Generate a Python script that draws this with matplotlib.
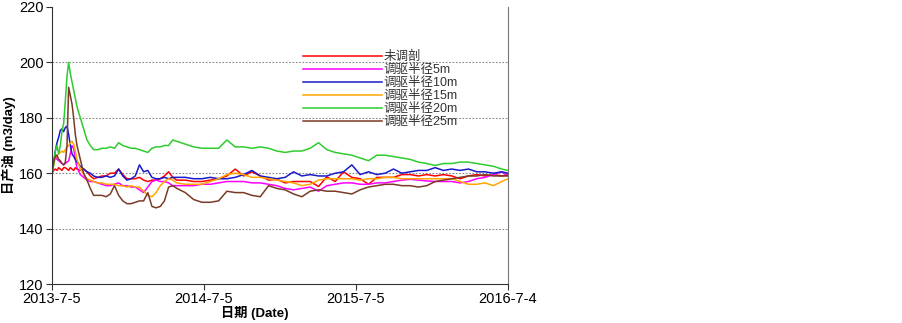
import matplotlib
matplotlib.use("Agg")
import matplotlib.pyplot as plt
import pandas as pd

plt.rcParams['font.family'] = ['Liberation Sans', 'Noto Sans CJK SC', 'DejaVu Sans']

# days since 2013-7-5
days = [0, 4, 8, 12, 16, 20, 24, 28, 32, 36, 40, 44, 48, 52, 56, 60,
        68, 76, 84, 92, 100, 110, 120, 130, 140, 150, 160, 170, 180, 190, 200,
        210, 220, 230, 240, 250, 260, 270, 280, 290, 300,
        320, 340, 360, 380, 400, 420, 440, 460, 480, 500, 520, 540, 560, 580,
        600, 620, 640, 660, 680, 700, 720, 740, 760, 780, 800, 820, 840, 860,
        880, 900, 920, 940, 960, 980, 1000, 1020, 1040, 1060, 1080, 1095]

base = [160, 161, 161.5, 161, 162, 161.5, 161, 162, 162, 161.5, 161, 162, 161.5, 161, 162, 161.5,
        161, 161.5, 160.5, 159, 158, 158.5, 159, 159, 160, 160, 161.5, 159.5, 158, 158, 158,
        158.5, 157.5, 157, 157.5, 157.5, 158, 159, 160.5, 158.5, 157.5,
        157.5, 157, 157, 157.5, 158, 159, 161.5, 159, 160.5, 159, 157.5, 157.8, 156.5, 157,
        157, 157, 155.2, 158.7, 157, 160.5, 158.5, 158, 156, 158.5, 158.5, 158.5, 159.5, 159.5,
        159, 159.5, 159, 159.5, 159, 158, 159, 159.5, 159, 159.5, 159, 159.5]

r5 = [160, 164, 166.5, 165, 164.5, 164, 163.5, 163, 163.5, 164, 164.5, 167, 170, 169, 165, 162,
      159.5, 158.5, 157.5, 157, 157, 156.5, 156, 155.5, 155.5, 156, 156.5, 155.5, 155.5, 155, 155,
      154, 153, 155, 157, 157.5, 157, 157, 156.5, 155.5, 155.5,
      155.5, 155.5, 156, 156, 156.5, 157, 157, 157, 156.5, 156.5, 156, 155.5, 154.5, 154,
      154.5, 155, 153.5, 155.5, 156, 156.5, 156.5, 156, 156, 156.5, 156.5, 157, 157.5, 157.8,
      157.5, 157.2, 157, 157, 157, 156.5, 157, 158, 158.5, 159.5, 160.5, 159]

r10 = [160, 164, 168, 171, 173, 175.5, 176, 175, 176.5, 177, 174, 170, 167, 166, 165, 164,
       162.5, 161.5, 160.5, 160, 159, 158.5, 158.5, 159, 158.5, 159, 161.5, 159, 157.5, 158, 159,
       163, 160.5, 161, 158.5, 158, 158, 158.5, 158, 158.5, 158.5,
       158.5, 158, 158, 158.5, 158, 158, 158.5, 159.5, 161, 159, 158.5, 158, 158.5, 160.5,
       159, 159.5, 159, 159, 160, 160.5, 163, 159.5, 160.5, 159.5, 160, 161.5, 160, 160.5,
       161, 161, 162, 161, 161.5, 161, 161.5, 160.5, 160.5, 160, 160.5, 160]

r15 = [160, 163, 165.5, 166.5, 167, 167.5, 168, 167.5, 168.5, 169.5, 170, 171, 171.5, 170.5, 168, 165,
       161.5, 159.5, 158, 157.5, 157, 156.5, 156.5, 156, 156, 156, 155.5, 155.5, 155, 155.5, 155,
       155, 153.5, 152, 151.5, 153, 155.5, 157, 158, 157.5, 156.5,
       156, 156, 156, 157, 158, 159.5, 160, 159.5, 158.5, 158.5, 158, 157.5, 157, 156.5,
       155.5, 156, 157.5, 158, 158, 158, 158, 157.5, 158, 158, 158.5, 158.5, 158, 158,
       158, 158, 158, 158, 158, 157, 156, 156, 156.5, 155.5, 157, 158]

r20 = [160, 163, 168, 170, 167, 170, 175, 178, 186, 195, 200, 196, 193, 190, 187, 184,
       180, 176, 172, 170, 168.5, 168.5, 169, 169, 169.5, 169, 171, 170, 169.5, 169, 169,
       168.5, 168, 167.5, 169, 169.5, 169.5, 170, 170, 172, 171.5,
       170.5, 169.5, 169, 169, 169, 172, 169.5, 169.5, 169, 169.5, 169, 168, 167.5, 168,
       168, 169, 171, 168.5, 167.5, 167, 166.5, 165.5, 164.5, 166.5, 166.5, 166, 165.5, 165,
       164, 163.5, 162.8, 163.5, 163.5, 164, 164, 163.5, 163, 162.5, 161.5, 161]

r25 = [160, 164, 166, 166.5, 165, 164.5, 163.5, 163, 164, 170, 191, 188, 185, 180, 174, 170,
       165, 160, 157.5, 154.5, 152, 152, 152, 151.5, 152.5, 155.5, 152, 150, 149, 149, 149.5,
       150, 150, 153, 148, 147.5, 148, 150, 155, 155.5, 154.5,
       153, 150.5, 149.5, 149.5, 150, 153.5, 153, 153, 152, 151.5, 155.5, 154.5, 154, 152.5,
       151.5, 153.5, 154, 153.5, 153.5, 153, 152.5, 154, 155, 155.5, 156, 156, 155.5, 155.5,
       155, 155.5, 157, 157.5, 158, 158.5, 159, 159, 159.5, 159, 159, 159]

labels = ['未调剖', '调驱半径5m', '调驱半径10m', '调驱半径15m', '调驱半径20m', '调驱半径25m']
colors = ['#ff0000', '#ff00ff', '#1a1acc', '#ffa500', '#2ecc2e', '#7a3b26']
series = [base, r5, r10, r15, r20, r25]

xtick_labels = ['2013-7-5', '2014-7-5', '2015-7-5', '2016-7-4']
yticks = [120, 140, 160, 180, 200, 220]

start = pd.Timestamp('2013-07-05')
dates = start + pd.to_timedelta(days, unit='D')

fig = plt.figure(figsize=(9.03, 3.23), dpi=100)
ax = fig.add_axes([52 / 903, 39 / 323, 456 / 903, 277 / 323])

for y in yticks[1:-1]:
    ax.axhline(y, color='#888888', linestyle=(0, (1.5, 1.5)), linewidth=0.8, zorder=0)

for vals, lab, col in zip(series, labels, colors):
    ax.plot(dates, vals, color=col, linewidth=1.1, label=lab)

tick_dates = [pd.Timestamp(s) for s in xtick_labels]
ax.set_xticks(tick_dates)
ax.set_xticklabels(xtick_labels, fontsize=10.5)
ax.set_xlim(tick_dates[0], tick_dates[-1])
ax.set_yticks(yticks)
ax.set_yticklabels([str(v) for v in yticks], fontsize=10.5)
ax.set_ylim(120, 220)

ax.spines['top'].set_visible(False)
ax.spines['right'].set_color('#777777')
for s in ['left', 'bottom']:
    ax.spines[s].set_color('#333333')
ax.tick_params(direction='out', length=4, width=0.8, pad=2, colors='#333333', labelcolor='black')

ax.set_xlabel('日期 (Date)', fontsize=9.5, fontweight='bold')
ax.xaxis.set_label_coords(0.445, -0.08)
ax.set_ylabel('日产油 (m3/day)', fontsize=9.5, fontweight='bold')
ax.yaxis.set_label_coords(-0.08, 0.5)

leg = ax.legend(loc='upper left', bbox_to_anchor=(303 / 903, 1 - 51 / 323),
                bbox_transform=fig.transFigure, frameon=False, fontsize=9,
                handlelength=6.3, handletextpad=0.15, labelspacing=0.08,
                borderpad=0, borderaxespad=0)
for t in leg.get_texts():
    t.set_color('#333333')

fig.savefig('out.png', dpi=100)
